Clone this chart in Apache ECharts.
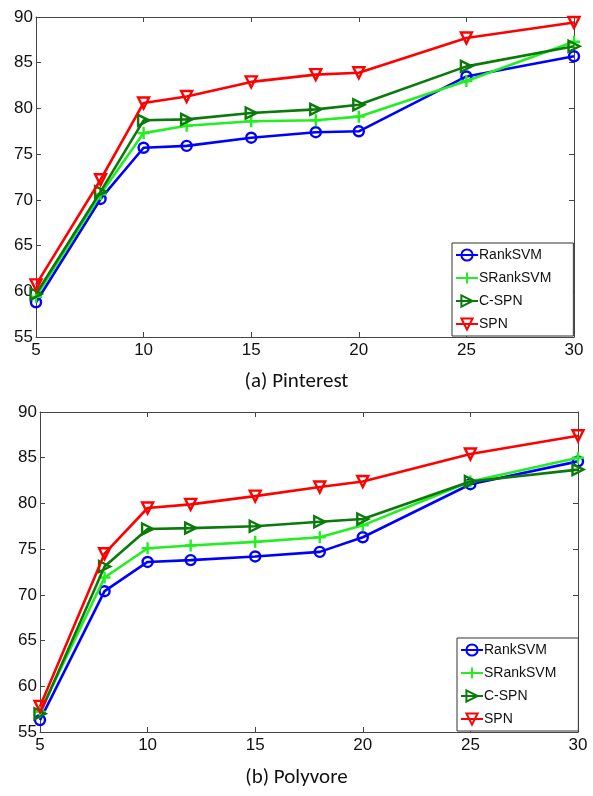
<!DOCTYPE html>
<html><head><meta charset="utf-8">
<script src="https://cdn.jsdelivr.net/npm/echarts@6/dist/echarts.min.js"></script>
<style>html,body{margin:0;padding:0;background:#fff}#c{width:593px;height:796px}</style>
</head><body><div id="c"></div>
<script>
const xValues = [5, 8, 10, 12, 15, 18, 20, 25, 30];
const seriesNames = ['RankSVM', 'SRankSVM', 'C-SPN', 'SPN'];
const yTicks = [55, 60, 65, 70, 75, 80, 85, 90];
const xTicks = [5, 10, 15, 20, 25, 30];
const captions = ['(a) Pinterest', '(b) Polyvore'];

// Pinterest
const pinRankSVM  = [58.8, 70.1, 75.7, 75.9, 76.8, 77.4, 77.5, 83.5, 85.7];
const pinSRankSVM = [59.4, 70.6, 77.3, 78.1, 78.6, 78.7, 79.1, 83.0, 87.3];
const pinCSPN     = [59.7, 70.9, 78.7, 78.8, 79.5, 79.9, 80.4, 84.6, 86.8];
const pinSPN      = [60.7, 72.2, 80.6, 81.3, 82.9, 83.7, 83.9, 87.7, 89.4];
// Polyvore
const polRankSVM  = [56.3, 70.4, 73.6, 73.8, 74.2, 74.7, 76.3, 82.1, 84.6];
const polSRankSVM = [57.2, 71.9, 75.1, 75.4, 75.8, 76.3, 77.6, 82.4, 85.0];
const polCSPN     = [57.0, 73.1, 77.2, 77.3, 77.5, 78.0, 78.3, 82.4, 83.7];
const polSPN      = [57.8, 74.5, 79.5, 79.9, 80.8, 81.8, 82.4, 85.4, 87.4];

const colors = ['#0000ff', '#22ee22', '#0a7a0a', '#ff0000'];
const symbols = ['circle', 'path://M5,0 L5,10 M0,5 L10,5', 'path://M0,0 L10,5 L0,10 Z', 'path://M0,0 L10,0 L5,9 Z'];
const symSizes = [10, 12, 11, 11];

const chart = echarts.init(document.getElementById('c'), null, {renderer: 'canvas'});
const FONT = '"Liberation Sans", Arial, sans-serif';
const grids = [
  {left: 36, right: 19, top: 17, height: 320},
  {left: 40, right: 15, top: 412, height: 320}
];
const axisLineStyle = {color: '#444', width: 1};
const xAxes = [], yAxes = [];
grids.forEach((g, i) => {
  xAxes.push({gridIndex: i, type: 'value', min: 5, max: 30, interval: 5, position: 'bottom',
    axisLine: {show: true, onZero: false, lineStyle: axisLineStyle},
    axisTick: {show: true, inside: true, length: 5, lineStyle: axisLineStyle},
    axisLabel: {show: true, color: '#111', fontSize: 17, fontFamily: FONT, margin: 5},
    splitLine: {show: false}});
  xAxes.push({gridIndex: i, type: 'value', min: 5, max: 30, interval: 5, position: 'top',
    axisLine: {show: true, onZero: false, lineStyle: axisLineStyle},
    axisTick: {show: true, inside: true, length: 5, lineStyle: axisLineStyle},
    axisLabel: {show: false}, splitLine: {show: false}});
  yAxes.push({gridIndex: i, type: 'value', min: 55, max: 90, interval: 5, position: 'left',
    axisLine: {show: true, onZero: false, lineStyle: axisLineStyle},
    axisTick: {show: true, inside: true, length: 5, lineStyle: axisLineStyle},
    axisLabel: {show: true, color: '#111', fontSize: 17, fontFamily: FONT, margin: 3},
    splitLine: {show: false}});
  yAxes.push({gridIndex: i, type: 'value', min: 55, max: 90, interval: 5, position: 'right',
    axisLine: {show: true, onZero: false, lineStyle: axisLineStyle},
    axisTick: {show: true, inside: true, length: 5, lineStyle: axisLineStyle},
    axisLabel: {show: false}, splitLine: {show: false}});
});

const dataSets = [
  [pinRankSVM, pinSRankSVM, pinCSPN, pinSPN],
  [polRankSVM, polSRankSVM, polCSPN, polSPN]
];
const series = [];
dataSets.forEach((set, gi) => {
  set.forEach((vals, si) => {
    series.push({
      type: 'line', name: seriesNames[si],
      xAxisIndex: gi * 2, yAxisIndex: gi * 2,
      data: xValues.map((x, k) => [x, vals[k]]),
      symbol: symbols[si], symbolSize: symSizes[si],
      showAllSymbol: true,
      lineStyle: {color: colors[si], width: 2.6},
      itemStyle: {color: si === 1 ? colors[si] : 'rgba(255,255,255,0)', borderColor: colors[si], borderWidth: 2.4},
      emphasis: {disabled: true},
      animation: false,
      z: 2 + si
    });
  });
});

const legends = [
  {left: 452, top: 243},
  {left: 457, top: 638}
].map(p => ({
  show: true, orient: 'vertical', left: p.left, top: p.top,
  data: seriesNames, itemWidth: 22, itemHeight: 14, itemGap: 9,
  padding: [5, 22, 5, 3], borderColor: '#333', borderWidth: 1, backgroundColor: '#fff',
  textStyle: {fontSize: 14, lineHeight: 14, fontFamily: FONT, color: '#111', padding: [0, 0, 0, -4]},
  selectedMode: false
}));

chart.setOption({
  animation: false,
  backgroundColor: '#fff',
  title: [
    {text: captions[0], left: 'center', top: 366, textStyle: {fontSize: 21, fontWeight: 'normal', fontFamily: 'Carlito, Lato, "Open Sans", sans-serif', color: '#111'}},
    {text: captions[1], left: 'center', top: 762, textStyle: {fontSize: 21, fontWeight: 'normal', fontFamily: 'Carlito, Lato, "Open Sans", sans-serif', color: '#111'}}
  ],
  grid: grids,
  xAxis: xAxes,
  yAxis: yAxes,
  legend: legends,
  series: series
});
</script></body></html>
